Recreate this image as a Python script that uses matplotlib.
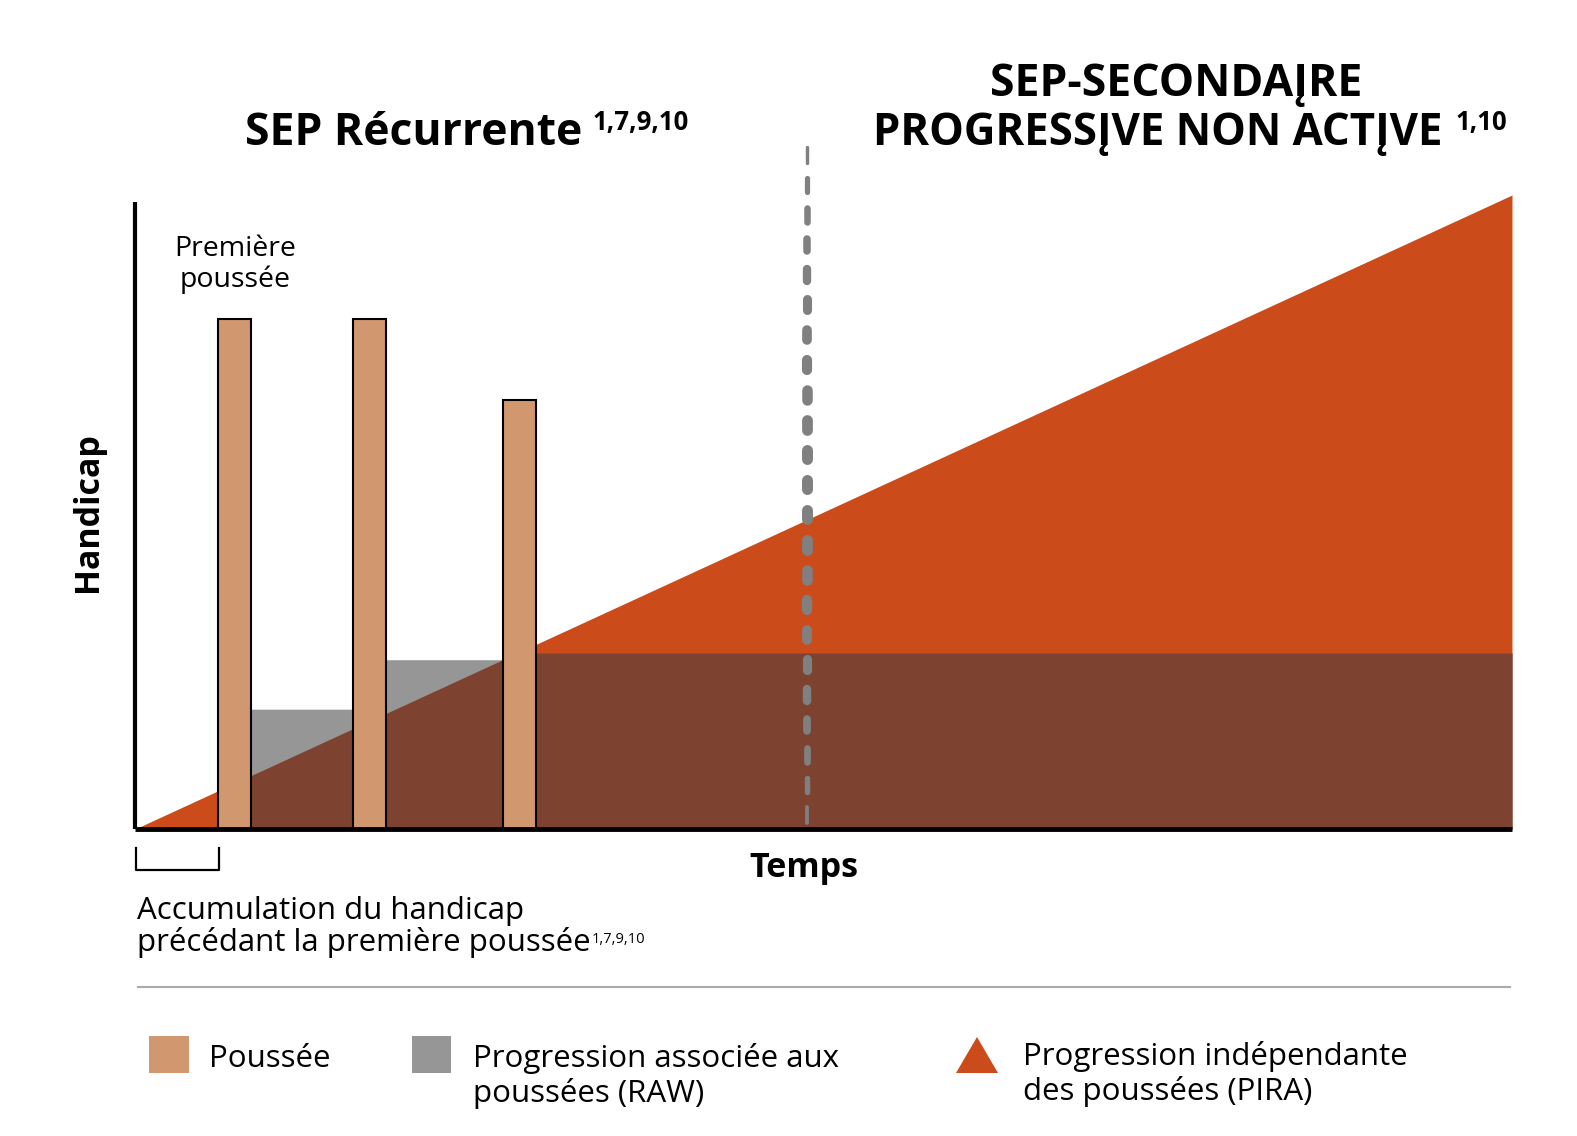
import numpy as np
import matplotlib.pyplot as plt
from matplotlib.collections import LineCollection
from matplotlib.patches import Rectangle, Polygon

W, H = 1577, 1136

# --- data (time 0-100, handicap 0-100) ---
bar_left = [6.0, 15.8, 26.7]
bar_width = [2.45, 2.4, 2.45]
bar_height = [80.4, 80.4, 67.7]
raw_x = [0, 6.0, 15.8, 26.7, 100]          # where the RAW step changes
raw_level = [0, 18.9, 26.7, 27.8, 27.8]    # RAW plateau heights
pira_end = 100                             # PIRA rises linearly to this value at t=100
transition = 48.8                          # RR -> SPMS

c_bar = '#D1976F'
c_raw = '#969696'
c_pira = '#CC4B1A'
c_both = '#7D4230'

title_font = 'Open Sans'
body_font = 'Open Sans'

fig = plt.figure(figsize=(W / 100, H / 100), dpi=100)
ax = fig.add_axes([135 / W, 1 - 829 / H, 1377 / W, 634 / H])
ax.set_xlim(0, 100)
ax.set_ylim(0, 100)
ax.axis('off')

t = np.linspace(0, 100, 4001)
pira = t * pira_end / 100
raw = np.array(raw_level)[np.searchsorted(raw_x, t, side='right') - 1]

ax.fill_between(t, 0, pira, color=c_pira, lw=0, zorder=1)
ax.fill_between(t, 0, raw, color=c_raw, lw=0, zorder=2)
ax.fill_between(t, 0, np.minimum(pira, raw), color=c_both, lw=0, zorder=3)

ax.bar(bar_left, bar_height, width=bar_width, align='edge', color=c_bar,
       edgecolor='black', linewidth=1.5, zorder=4)

# axes lines
ax.plot([0, 0], [0, 98.9], color='black', lw=3, clip_on=False, zorder=6, solid_capstyle='butt')
ax.plot([0, 100], [0, 0], color='black', lw=3.5, clip_on=False, zorder=6, solid_capstyle='butt')

# tapered dashed transition line (round caps, so trim each segment by the cap radius)
y_top, y_bot = 107.9, 0.0
ppu = 6.34  # pixels per y unit
period_px, dash_px = 30, 20
starts = np.arange(y_top, y_bot, -period_px / ppu)
segs, widths = [], []
for s in starts:
    frac = (y_top - (s - dash_px / 2 / ppu)) / (y_top - y_bot)
    frac = min(max(frac, 0), 1)
    lw_px = 2 + 9 * np.sin(np.pi * frac) ** 0.6
    r = lw_px / 2 / ppu
    a = s - r
    b = max(s - dash_px / ppu + r, y_bot + r)
    if b >= a:
        b = a - 0.2
    widths.append(lw_px * 0.72)
    segs.append([(transition, a), (transition, b)])
lc = LineCollection(segs, linewidths=widths, colors='#808080', capstyle='round',
                    zorder=5, clip_on=False)
ax.add_collection(lc)

# overlay in pixel coordinates for annotations / legend
ov = fig.add_axes([0, 0, 1, 1], zorder=10)
ov.set_xlim(0, W)
ov.set_ylim(H, 0)
ov.axis('off')
ov.patch.set_alpha(0)
renderer = fig.canvas.get_renderer()


def with_sup(x, y, main, sup, size, sup_size, sup_rise, gap, **kw):
    txt = ov.text(x, y, main, fontsize=size, ha='left', va='baseline', **kw)
    bb = txt.get_window_extent(renderer)
    ov.text(bb.x1 + gap, y - sup_rise, sup, fontsize=sup_size, ha='left', va='baseline', **kw)


with_sup(245, 145, 'SEP Récurrente', '1,7,9,10', 32, 18.5, 15, 10,
         fontweight='bold', family=title_font)
ov.text(1176, 96, 'SEP-SECONDAĮRE', fontsize=32, fontweight='bold', family=title_font,
        ha='center', va='baseline')
with_sup(873, 145, 'PROGRESSĮVE NON ACTĮVE', '1,10', 31.5, 18.5, 15, 13,
         fontweight='bold', family=title_font)

ov.text(235, 256, 'Première', fontsize=20.5, family=body_font, ha='center', va='baseline')
ov.text(235, 287, 'poussée', fontsize=20.5, family=body_font, ha='center', va='baseline')

ov.text(88, 512, 'Handicap', fontsize=24.5, fontweight='bold', family=body_font,
        ha='center', va='center', rotation=90)
ov.text(804, 877, 'Temps', fontsize=24.5, fontweight='bold', family=body_font,
        ha='center', va='baseline')

# bracket under pre-relapse accumulation
ov.plot([136, 136, 219, 219], [848, 870, 870, 848], color='black', lw=1.6)
ov.text(137, 919, 'Accumulation du handicap', fontsize=22.5, family=body_font,
        ha='left', va='baseline')
with_sup(137, 951, 'précédant la première poussée', '1,7,9,10', 22.5, 10.6, 8, 1,
         family=body_font)

# legend
ov.plot([138, 1510], [987, 987], color='#AAAAAA', lw=1.5)
ov.add_patch(Rectangle((149, 1036), 40, 37, color=c_bar, lw=0))
ov.add_patch(Rectangle((412, 1036), 39, 37, color=c_raw, lw=0))
ov.add_patch(Polygon([(956, 1073), (977, 1037), (998, 1073)], closed=True, color=c_pira, lw=0))
ov.text(209, 1067, 'Poussée', fontsize=22.5, family=body_font, ha='left', va='baseline')
ov.text(473, 1067, 'Progression associée aux', fontsize=22.5, family=body_font,
        ha='left', va='baseline')
ov.text(473, 1102, 'poussées (RAW)', fontsize=22.5, family=body_font, ha='left', va='baseline')
ov.text(1023, 1065, 'Progression indépendante', fontsize=22.5, family=body_font,
        ha='left', va='baseline')
ov.text(1023, 1100, 'des poussées (PIRA)', fontsize=22.5, family=body_font,
        ha='left', va='baseline')

fig.savefig('out.png', dpi=100)
